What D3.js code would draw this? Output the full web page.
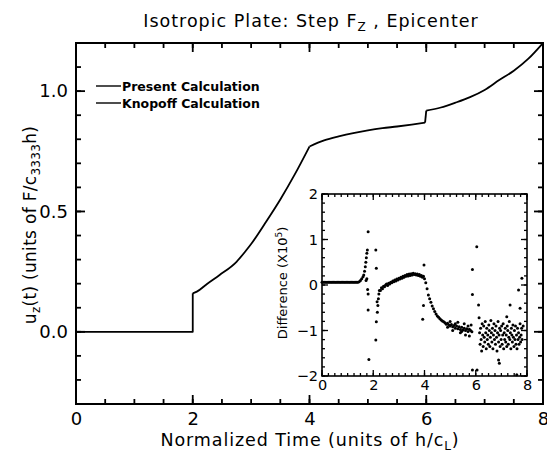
<!DOCTYPE html>
<html>
<head>
<meta charset="utf-8">
<script src="https://cdn.jsdelivr.net/npm/d3@7"></script>
<style>
  body { margin: 0; background: #fff; }
  text { font-family: "DejaVu Sans", sans-serif; fill: #000; }
</style>
</head>
<body>
<svg id="chart" width="547" height="455"></svg>
<script>
// main curve (present and Knopoff overlap), split at the two jumps
const timeSteps = [0, 2, 2, 2.07, 2.25, 2.46, 2.75, 2.92, 3.0, 3.25, 3.5, 3.75, 4.0, 4.25, 4.5, 4.75,
  5.0, 5.25, 5.5, 5.75, 5.98, 6.0, 6.25, 6.5, 6.75, 7.0, 7.25, 7.5, 7.75, 8.0]
const displacement = [0, 0, 0.16, 0.167, 0.2, 0.236, 0.291, 0.34, 0.365, 0.455, 0.55, 0.655, 0.77, 0.795, 0.812, 0.826,
  0.837, 0.846, 0.853, 0.861, 0.869, 0.919, 0.932, 0.952, 0.975, 1.005, 1.046, 1.085, 1.135, 1.2]

// inset: difference (x10^5), [t, value]
const diffFlat = [[0, 0.06], [0.05, 0.06], [0.1, 0.06], [0.15, 0.06], [0.2, 0.06], [0.25, 0.06], [0.3, 0.06],
  [0.35, 0.06], [0.4, 0.06], [0.45, 0.06], [0.5, 0.06], [0.55, 0.06], [0.6, 0.06], [0.65, 0.06], [0.7, 0.06],
  [0.75, 0.06], [0.8, 0.06], [0.85, 0.06], [0.9, 0.06], [0.95, 0.06], [1.0, 0.06], [1.05, 0.06], [1.1, 0.06],
  [1.15, 0.06], [1.2, 0.06], [1.25, 0.06], [1.3, 0.06], [1.35, 0.06], [1.4, 0.06], [1.45, 0.07]]
const diffSpike = [[1.5, 0.1], [1.55, 0.14], [1.6, 0.18], [1.63, 0.22], [1.66, 0.3], [1.69, 0.4], [1.71, 0.5],
  [1.73, 0.6], [1.75, 0.7], [1.77, 0.77], [1.8, 1.17], [1.72, 0.1], [1.75, 0.14], [1.78, -0.1], [1.8, -0.2],
  [1.8, -0.55], [1.83, -1.64], [2.1, 0.77], [2.12, 0.37], [2.15, -0.37], [2.12, -0.81], [2.1, -1.21],
  [2.16, -0.6], [2.18, -0.45], [2.2, -0.3], [2.22, -0.2], [2.24, -0.12]]
const diffArc = [[2.28, -0.12], [2.32, -0.06], [2.36, -0.08], [2.4, -0.03], [2.44, -0.04], [2.48, 0.0],
  [2.52, 0.02], [2.56, -0.01], [2.6, 0.04], [2.64, 0.02], [2.68, 0.06], [2.72, 0.05], [2.76, 0.09], [2.8, 0.07],
  [2.84, 0.11], [2.88, 0.09], [2.92, 0.13], [2.96, 0.11], [3.0, 0.15], [3.04, 0.13], [3.08, 0.17], [3.12, 0.15],
  [3.16, 0.19], [3.2, 0.17], [3.24, 0.21], [3.28, 0.19], [3.32, 0.23], [3.36, 0.2], [3.4, 0.24], [3.44, 0.21],
  [3.48, 0.25], [3.52, 0.22], [3.56, 0.26], [3.6, 0.23], [3.64, 0.25], [3.68, 0.22], [3.72, 0.24], [3.76, 0.21],
  [3.8, 0.23], [3.84, 0.19], [3.88, 0.21], [3.92, 0.17], [3.96, 0.19], [4.0, 0.14],
  [3.98, 0.44], [3.96, -0.45], [3.93, -0.75]]
const diffFall = [[4.05, 0.05], [4.1, -0.08], [4.15, -0.22], [4.2, -0.3], [4.25, -0.38], [4.3, -0.46],
  [4.35, -0.52], [4.4, -0.58], [4.45, -0.64], [4.5, -0.68], [4.55, -0.71], [4.6, -0.74], [4.65, -0.77],
  [4.7, -0.79], [4.75, -0.81], [4.8, -0.83], [4.85, -0.86], [4.9, -0.84], [4.95, -0.88], [5.0, -0.9],
  [5.05, -0.87], [5.1, -0.92], [5.15, -0.89], [5.2, -0.95], [5.25, -0.9], [5.3, -0.96], [5.35, -0.92],
  [5.4, -0.98], [5.45, -0.93], [5.5, -0.99], [5.55, -0.95], [5.6, -1.0], [5.65, -0.96], [5.7, -1.02],
  [5.75, -0.97], [5.8, -1.0], [5.85, -1.03], [5.0, -0.8], [5.1, -1.0], [5.3, -0.82], [5.4, -1.05],
  [5.55, -0.85], [5.6, -1.1], [5.7, -0.9], [5.75, -1.12], [5.82, -0.88], [4.9, -0.93], [5.2, -0.85],
  [5.45, -1.02]]
const diffCloud = [[6.04, 0.84], [5.87, 0.34], [5.87, -0.21], [6.11, -0.44], [5.87, -1.87], [6.05, -1.87],
  [6.13, -0.72], [6.15, -1.05], [6.17, -1.3], [6.19, -0.95], [6.21, -1.2], [6.23, -1.45], [6.25, -0.85],
  [6.27, -1.1], [6.29, -1.35], [6.31, -0.9], [6.33, -1.15], [6.35, -1.25], [6.37, -0.8], [6.39, -1.05],
  [6.41, -1.4], [6.43, -0.95], [6.45, -1.2], [6.47, -1.1], [6.49, -1.3], [6.51, -0.88], [6.53, -1.0],
  [6.55, -1.35], [6.57, -1.15], [6.59, -0.78], [6.61, -1.05], [6.63, -1.25], [6.65, -0.95], [6.67, -1.4],
  [6.69, -1.1], [6.71, -0.85], [6.73, -1.2], [6.75, -1.0], [6.77, -1.3], [6.79, -0.9], [6.81, -1.15],
  [6.83, -1.45], [6.85, -1.05], [6.87, -0.8], [6.89, -1.25], [6.91, -1.1], [6.93, -0.95], [6.95, -1.35],
  [6.97, -1.0], [6.99, -1.2], [7.01, -0.9], [7.03, -1.3], [7.05, -1.1], [7.07, -0.85], [7.09, -1.4],
  [7.11, -1.05], [7.13, -1.2], [7.15, -0.95], [7.17, -1.25], [7.19, -1.1], [7.21, -1.35], [7.23, -0.9],
  [7.25, -1.0], [7.27, -1.3], [7.29, -1.15], [7.31, -0.8], [7.33, -1.2], [7.35, -1.05], [7.37, -1.4],
  [7.39, -0.95], [7.41, -1.1], [7.43, -1.25], [7.45, -0.88], [7.47, -1.15], [7.49, -1.35], [7.51, -1.0],
  [7.53, -1.2], [7.55, -0.9], [7.57, -1.3], [7.59, -1.1], [7.61, -1.4], [7.63, -0.95], [7.65, -1.2],
  [7.67, -1.05], [7.69, -1.3], [7.71, -1.15], [7.73, -0.85], [7.75, -1.25], [7.77, -1.1], [7.79, -0.95],
  [7.81, -1.2], [7.67, -0.11], [7.8, 0.15], [7.73, -0.51], [7.34, -0.44], [7.21, -0.7], [6.89, -1.65],
  [6.92, -1.72], [7.6, -1.97], [7.85, -0.9]]

const mainXTicks = [0, 2, 4, 6, 8]
const mainYTicks = [0, 0.5, 1.0]
const insetXTicks = [0, 2, 4, 6, 8]
const insetYTicks = [-2, -1, 0, 1, 2]
const legendLabels = ['Present Calculation', 'Knopoff Calculation']

const svg = d3.select('#chart')

const x = d3.scaleLinear().domain([0, 8]).range([76, 543])
const y = d3.scaleLinear().domain([-0.3, 1.2]).range([404, 43])
const xi = d3.scaleLinear().domain([0, 8]).range([322, 527])
const yi = d3.scaleLinear().domain([-2, 2]).range([376, 194])

// box, tick labels from d3 axes, inward tick marks on all four sides
function frame (g, xs, ys, o) {
  const [x0, x1] = xs.range()
  const [y0, y1] = ys.range()
  g.append('rect')
    .attr('x', x0).attr('y', y1)
    .attr('width', x1 - x0).attr('height', y0 - y1)
    .attr('fill', '#fff').attr('stroke', '#000').attr('stroke-width', o.sw)

  g.append('g').attr('transform', `translate(0,${y0})`)
    .call(d3.axisBottom(xs).tickValues(o.xMajor).tickSize(0).tickPadding(o.pad).tickFormat(o.xFmt))
    .call(a => a.select('.domain').remove())
    .selectAll('text').attr('font-size', o.fontSize).style('font-family', '"DejaVu Sans", sans-serif')
  g.append('g').attr('transform', `translate(${x0},0)`)
    .call(d3.axisLeft(ys).tickValues(o.yMajor).tickSize(0).tickPadding(o.pad).tickFormat(o.yFmt))
    .call(a => a.select('.domain').remove())
    .selectAll('text').attr('font-size', o.fontSize).style('font-family', '"DejaVu Sans", sans-serif')

  const marks = g.append('g').attr('stroke', '#000').attr('stroke-width', o.tickW)
  const xTicks = [...o.xMinor.map(v => [v, o.minorLen]), ...o.xMajor.map(v => [v, o.majorLen])]
  const yTicks = [...o.yMinor.map(v => [v, o.minorLen]), ...o.yMajor.map(v => [v, o.majorLen])]
  ;[[y0, -1], [y1, 1]].forEach(([edge, dir]) => {
    marks.append('g').selectAll('line').data(xTicks).join('line')
      .attr('x1', d => xs(d[0])).attr('x2', d => xs(d[0]))
      .attr('y1', edge).attr('y2', d => edge + dir * d[1])
  })
  ;[[x0, 1], [x1, -1]].forEach(([edge, dir]) => {
    marks.append('g').selectAll('line').data(yTicks).join('line')
      .attr('y1', d => ys(d[0])).attr('y2', d => ys(d[0]))
      .attr('x1', edge).attr('x2', d => edge + dir * d[1])
  })
}

frame(svg.append('g'), x, y, {
  sw: 2, tickW: 1.8, majorLen: 9, minorLen: 5, pad: 8, fontSize: 18,
  xMajor: mainXTicks, xMinor: d3.range(0, 8.01, 0.5),
  yMajor: mainYTicks, yMinor: d3.range(-0.3, 1.21, 0.1).map(v => +v.toFixed(2)),
  xFmt: d3.format('d'), yFmt: d3.format('.1f')
})

// main line: flat part and first jump, middle part, last part after the second jump
const mainPts = timeSteps.map((t, i) => [t, displacement[i]])
const straight = d3.line().x(d => x(d[0])).y(d => y(d[1]))
const smooth = d3.line().x(d => x(d[0])).y(d => y(d[1])).curve(d3.curveMonotoneX)
const curveParts = [
  [straight, mainPts.slice(0, 3)],
  [smooth, mainPts.slice(2, 13)],
  [smooth, mainPts.slice(12, 21)],
  [straight, mainPts.slice(20, 22)],
  [smooth, mainPts.slice(21)]
]
curveParts.forEach(([gen, pts]) => {
  svg.append('path')
    .attr('d', gen(pts))
    .attr('fill', 'none').attr('stroke', '#000').attr('stroke-width', 1.8)
    .attr('stroke-linejoin', 'round')
})

// legend
const legend = svg.append('g')
legendLabels.forEach((label, i) => {
  const ly = 86 + i * 17
  legend.append('line').attr('x1', 96).attr('x2', 121).attr('y1', ly).attr('y2', ly)
    .attr('stroke', '#000').attr('stroke-width', 1.4)
  legend.append('text').attr('x', 122).attr('y', ly + 5)
    .attr('font-size', 12.5).attr('font-weight', 'bold').text(label)
})

// title
const title = svg.append('text').attr('x', 311).attr('y', 27).attr('text-anchor', 'middle')
  .attr('font-size', 17.5).attr('letter-spacing', 1)
title.append('tspan').text('Isotropic Plate:  Step F')
title.append('tspan').attr('font-size', 12).attr('dy', 4).text('Z')
title.append('tspan').attr('dy', -4).text('  ,  Epicenter')

// x label
const xl = svg.append('text').attr('x', 310).attr('y', 446).attr('text-anchor', 'middle')
  .attr('font-size', 17.5).attr('letter-spacing', 0.9)
xl.append('tspan').text('Normalized Time  (units of  h/c')
xl.append('tspan').attr('font-size', 12).attr('dy', 4).text('L')
xl.append('tspan').attr('dy', -4).text(')')

// y label
const yl = svg.append('text').attr('transform', 'translate(36,225) rotate(-90)')
  .attr('text-anchor', 'middle').attr('font-size', 17).attr('letter-spacing', 0.3)
yl.append('tspan').text('u')
yl.append('tspan').attr('font-size', 12).attr('dy', 4).text('z')
yl.append('tspan').attr('dy', -4).text('(t)  (units of F/c')
yl.append('tspan').attr('font-size', 12).attr('dy', 4).text('3333')
yl.append('tspan').attr('dy', -4).text('h)')

// inset
const inset = svg.append('g')
frame(inset, xi, yi, {
  sw: 1.6, tickW: 1.3, majorLen: 6, minorLen: 3, pad: 4, fontSize: 14.5,
  xMajor: insetXTicks, xMinor: d3.range(0, 8.01, 0.25),
  yMajor: insetYTicks, yMinor: d3.range(-2, 2.01, 0.2).map(v => +v.toFixed(2)),
  xFmt: d3.format('d'), yFmt: d3.format('d')
})

const diffPoints = [...diffFlat, ...diffSpike, ...diffArc, ...diffFall, ...diffCloud]
inset.append('g').selectAll('circle')
  .data(diffPoints)
  .join('circle')
  .attr('cx', d => xi(d[0])).attr('cy', d => yi(d[1]))
  .attr('r', 1.5).attr('fill', '#000')

const il = inset.append('text').attr('transform', 'translate(287,283) rotate(-90)')
  .attr('text-anchor', 'middle').attr('font-size', 13)
il.append('tspan').text('Difference  (X10')
il.append('tspan').attr('font-size', 9).attr('dy', -5).text('5')
il.append('tspan').attr('dy', 5).text(')')
</script>
</body>
</html>
